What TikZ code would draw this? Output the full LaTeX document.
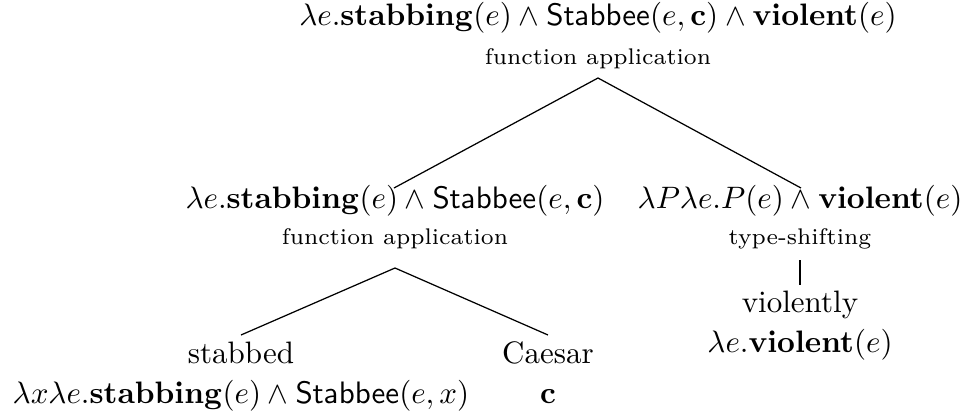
\documentclass[tikz,border=0pt]{standalone}
\begin{document}
\begin{tikzpicture}[x=0.32258pt,y=-0.32258pt,
  txt/.style={inner sep=0pt, anchor=base},
  lab/.style={inner sep=0pt, anchor=base, font=\fontsize{7.3}{9}\selectfont},
  branch/.style={draw=black, line width=0.4pt}]
\useasboundingbox (0,0) rectangle (967,412);
% root
\node[txt] (root) at (598,25) {$\lambda e.\mathbf{stabbing}(e)\wedge\mathsf{Stabbee}(e,\mathbf{c})\wedge\mathbf{violent}(e)$};
\node[lab] (fa1) at (598,64) {function application};
% level 1
\node[txt] (lc) at (395,208) {$\lambda e.\mathbf{stabbing}(e)\wedge\mathsf{Stabbee}(e,\mathbf{c})$};
\node[lab] (fa2) at (395,244) {function application};
\node[txt] (rc) at (800,208) {$\lambda P\lambda e.P(e)\wedge\mathbf{violent}(e)$};
\node[lab] (ts) at (800,244) {type-shifting};
% level 2
\node[txt] (stw) at (241,363) {stabbed};
\node[txt] (stf) at (241,403) {$\lambda x\lambda e.\mathbf{stabbing}(e)\wedge\mathsf{Stabbee}(e,x)$};
\node[txt] (caw) at (548,363) {Caesar};
\node[txt] (caf) at (548,403) {$\mathbf{c}$};
\node[txt] (viw) at (800,312) {violently};
\node[txt] (vif) at (800,352) {$\lambda e.\mathbf{violent}(e)$};
% connector points
\coordinate (a1) at (598,78);
\coordinate (l1) at (394,188);
\coordinate (r1) at (801,188);
\coordinate (a2) at (395,268);
\coordinate (l2) at (241,335);
\coordinate (r2) at (548,335);
\coordinate (a3) at (800,260);
\coordinate (b3) at (800,285);
\draw[branch] (l1) -- (a1) -- (r1);
\draw[branch] (l2) -- (a2) -- (r2);
\draw[branch] (a3) -- (b3);
\end{tikzpicture}
\end{document}
